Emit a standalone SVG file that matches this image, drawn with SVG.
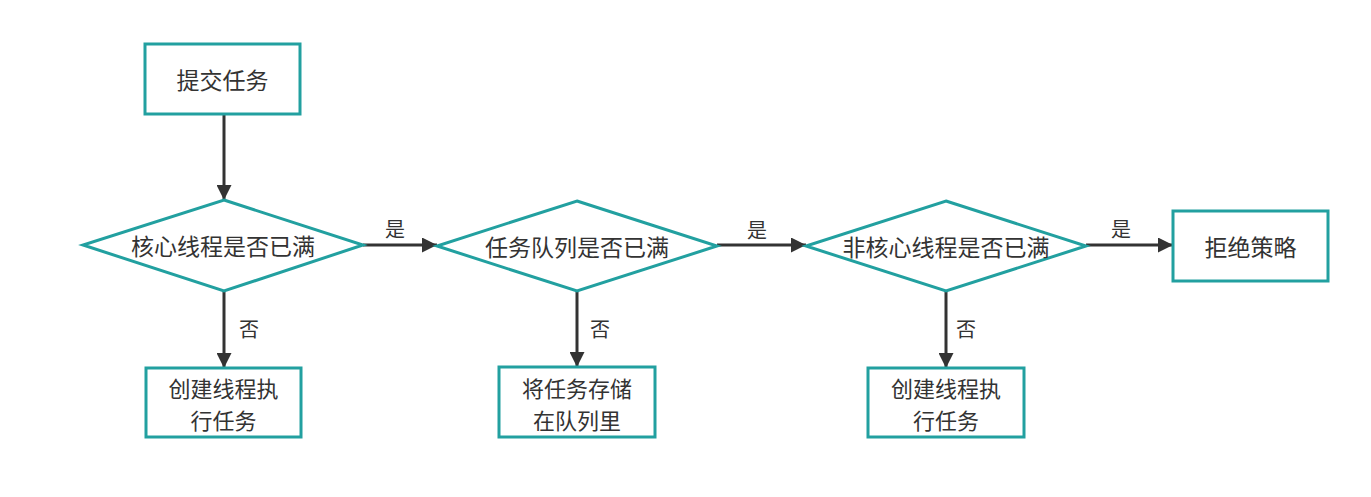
<svg xmlns="http://www.w3.org/2000/svg" width="1371" height="497" viewBox="0 0 1371 497">
<style>
.n{fill:#fff;stroke:#22a0a0;stroke-width:3}
.t{font-family:"Noto Sans CJK SC","Noto Sans",sans-serif;font-size:23px;fill:#333;text-anchor:middle;dominant-baseline:central}
.t2{font-family:"Noto Sans CJK SC","Noto Sans",sans-serif;font-size:22px;fill:#333;text-anchor:middle;dominant-baseline:central}
.l{font-family:"Noto Sans CJK SC","Noto Sans",sans-serif;font-size:20px;fill:#333;text-anchor:middle;dominant-baseline:central}
.e{stroke:#333;stroke-width:3;fill:none;marker-end:url(#a)}
</style>
<defs>
<marker id="a" markerWidth="5" markerHeight="5" refX="5" refY="2.5" orient="auto" markerUnits="strokeWidth">
<path d="M0,0 L5,2.5 L0,5 Z" fill="#333"/>
</marker>
</defs>
<rect width="1371" height="497" fill="#fff"/>
<g id="connectors">
<line class="e" x1="224" y1="114" x2="224" y2="200"/>
<line class="e" x1="363" y1="245" x2="437" y2="245"/>
<line class="e" x1="717" y1="245" x2="806" y2="245"/>
<line class="e" x1="1086" y1="245" x2="1173" y2="245"/>
<line class="e" x1="224" y1="291" x2="224" y2="368"/>
<line class="e" x1="577" y1="291" x2="577" y2="367"/>
<line class="e" x1="946" y1="291" x2="946" y2="368"/>
<text class="l" x="395" y="228">是</text>
<text class="l" x="757" y="229">是</text>
<text class="l" x="1121" y="228">是</text>
<text class="l" x="249" y="328">否</text>
<text class="l" x="600" y="328">否</text>
<text class="l" x="966" y="328">否</text>
</g>
<g id="submit">
<rect class="n" x="145" y="44" width="155" height="70"/>
<text class="t" x="222.5" y="79">提交任务</text>
</g>
<g id="core-full">
<polygon class="n" points="224,200 363,245 224,291 83,245"/>
<text class="t" x="223" y="245">核心线程是否已满</text>
</g>
<g id="queue-full">
<polygon class="n" points="577,201 717,246 577,291 437,246"/>
<text class="t" x="577" y="246">任务队列是否已满</text>
</g>
<g id="noncore-full">
<polygon class="n" points="946,201 1086,246 946,291 806,246"/>
<text class="t" x="946" y="246">非核心线程是否已满</text>
</g>
<g id="reject">
<rect class="n" x="1173" y="211" width="155" height="70"/>
<text class="t" x="1250.5" y="246">拒绝策略</text>
</g>
<g id="create-core">
<rect class="n" x="146" y="368" width="155" height="69"/>
<text class="t2" x="223.5" y="387">创建线程执</text>
<text class="t2" x="223.5" y="419">行任务</text>
</g>
<g id="store-queue">
<rect class="n" x="499" y="367" width="156" height="70"/>
<text class="t2" x="577" y="387">将任务存储</text>
<text class="t2" x="577" y="419">在队列里</text>
</g>
<g id="create-noncore">
<rect class="n" x="868" y="368" width="156" height="69"/>
<text class="t2" x="946" y="387">创建线程执</text>
<text class="t2" x="946" y="419">行任务</text>
</g>
</svg>
